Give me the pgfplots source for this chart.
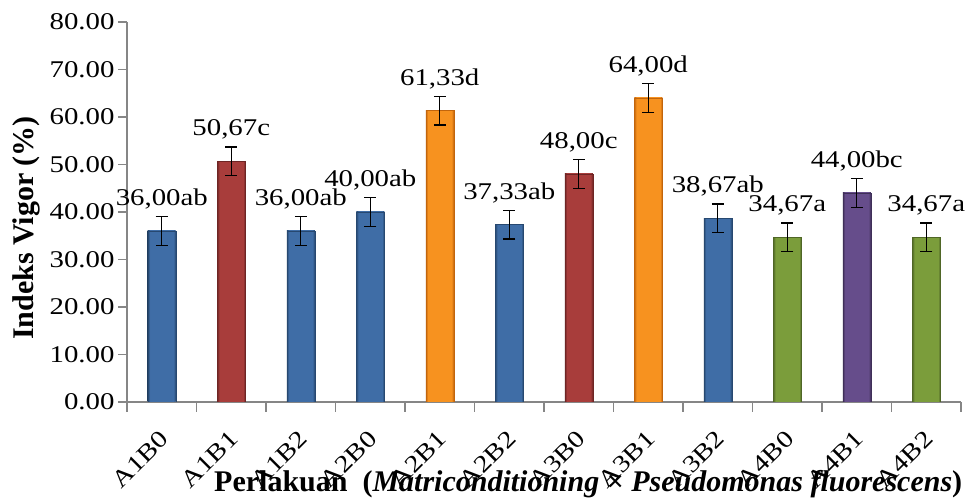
\documentclass[border=0pt]{standalone}
\usepackage{pgfplots}
\pgfplotsset{compat=1.18}
\usepackage{fontspec}
\setmainfont{Liberation Serif}
\newfontfamily\tickfont{Liberation Serif}[FakeStretch=1.2]
\definecolor{axgray}{HTML}{868686}
\definecolor{blueE}{HTML}{274870}
\definecolor{blueM}{HTML}{3F6DA6}
\definecolor{redE}{HTML}{6E2524}
\definecolor{redM}{HTML}{A83D3B}
\definecolor{orE}{HTML}{C2650C}
\definecolor{orM}{HTML}{F7921F}
\definecolor{grE}{HTML}{4F6626}
\definecolor{grM}{HTML}{7B9D3B}
\definecolor{puE}{HTML}{3F2F58}
\definecolor{puM}{HTML}{664D8B}
\pgfdeclarehorizontalshading{barblue}{100bp}{color(0bp)=(blueE); color(25bp)=(blueE); color(29bp)=(blueM); color(71bp)=(blueM); color(75bp)=(blueE); color(100bp)=(blueE)}
\pgfdeclarehorizontalshading{barred}{100bp}{color(0bp)=(redE); color(25bp)=(redE); color(29bp)=(redM); color(71bp)=(redM); color(75bp)=(redE); color(100bp)=(redE)}
\pgfdeclarehorizontalshading{baror}{100bp}{color(0bp)=(orE); color(25bp)=(orE); color(29bp)=(orM); color(71bp)=(orM); color(75bp)=(orE); color(100bp)=(orE)}
\pgfdeclarehorizontalshading{bargr}{100bp}{color(0bp)=(grE); color(25bp)=(grE); color(29bp)=(grM); color(71bp)=(grM); color(75bp)=(grE); color(100bp)=(grE)}
\pgfdeclarehorizontalshading{barpu}{100bp}{color(0bp)=(puE); color(25bp)=(puE); color(29bp)=(puM); color(71bp)=(puM); color(75bp)=(puE); color(100bp)=(puE)}
\pgfplotsset{
  mybar/.style={ybar, bar width=28pt, bar shift=0pt, shade, error bars/.cd, y dir=both, y explicit},
  cblue/.style={draw=blueE, shading=barblue, mybar},
  cred/.style={draw=redE, shading=barred, mybar},
  cor/.style={draw=orE, shading=baror, mybar},
  cgr/.style={draw=grE, shading=bargr, mybar},
  cpu/.style={draw=puE, shading=barpu, mybar},
}
\begin{document}
\begin{tikzpicture}
\begin{axis}[
  name=ax,
  scale only axis,
  width=834pt, height=380pt,
  xmin=-0.5, xmax=11.5,
  ymin=0, ymax=80,
  axis x line*=bottom, axis y line*=left,
  axis line style={draw=axgray, line width=1.4pt},
  ytick={0,10,...,80},
  yticklabel={\pgfmathprintnumber[assume math mode=true, fixed, fixed zerofill, precision=2]{\tick}},
  xtick={0,...,11},
  xticklabels={A1B0,A1B1,A1B2,A2B0,A2B1,A2B2,A3B0,A3B1,A3B2,A4B0,A4B1,A4B2},
  minor xtick={-0.5,0.5,...,11.5},
  major x tick style={draw=none},
  minor x tick style={draw=axgray, line width=1.2pt},
  minor tick length=10pt,
  y tick style={draw=axgray, line width=1.2pt},
  major tick length=9pt,
  tick align=outside,
  tick pos=left,
  yticklabel style={font=\tickfont\fontsize{24}{28}\selectfont},
  xticklabel style={font=\tickfont\fontsize{24}{28}\selectfont, anchor=north east, inner sep=0pt, xshift=-3pt, yshift=-18pt, rotate=45},
  ylabel={\bfseries Indeks Vigor (\%)},
  ylabel style={font=\fontsize{30}{33}\selectfont, at={(axis description cs:-0.121,0.458)}, anchor=center},
  xlabel={\bfseries Perlakuan\ \ (\textit{Matriconditioning} × \textit{Pseudomonas fluorescens})},
  xlabel style={font=\fontsize{30}{33}\selectfont, at={(axis description cs:0.553,-0.216)}, anchor=center},
  error bars/error bar style={black, line width=1.3pt},
  error bars/error mark options={black, line width=1.3pt, mark size=6pt, rotate=90},
]
\addplot[cblue] coordinates {(0,36) +- (0,3)};
\addplot[cred]  coordinates {(1,50.67) +- (0,3)};
\addplot[cblue] coordinates {(2,36) +- (0,3)};
\addplot[cblue] coordinates {(3,40) +- (0,3)};
\addplot[cor]   coordinates {(4,61.33) +- (0,3)};
\addplot[cblue] coordinates {(5,37.33) +- (0,3)};
\addplot[cred]  coordinates {(6,48) +- (0,3)};
\addplot[cor]   coordinates {(7,64) +- (0,3)};
\addplot[cblue] coordinates {(8,38.67) +- (0,3)};
\addplot[cgr]   coordinates {(9,34.67) +- (0,3)};
\addplot[cpu]   coordinates {(10,44) +- (0,3)};
\addplot[cgr]   coordinates {(11,34.67) +- (0,3)};
% value labels
\addplot[draw=none, nodes near coords, point meta=explicit symbolic,
  nodes near coords style={font=\tickfont\fontsize{24}{28}\selectfont, anchor=south, text=black, yshift=4pt}]
  table[meta=lab] {
x y lab
0 39 36,00ab
1 53.67 50,67c
2 39 36,00ab
3 43 40,00ab
4 64.33 61,33d
5 40.33 37,33ab
6 51 48,00c
7 67 64,00d
8 41.67 38,67ab
9 37.67 34,67a
10 47 44,00bc
11 37.67 34,67a
};
\end{axis}
\path ([shift={(-127pt,-98pt)}]ax.south west) rectangle ([shift={(8pt,22pt)}]ax.north east);
\end{tikzpicture}
\end{document}
